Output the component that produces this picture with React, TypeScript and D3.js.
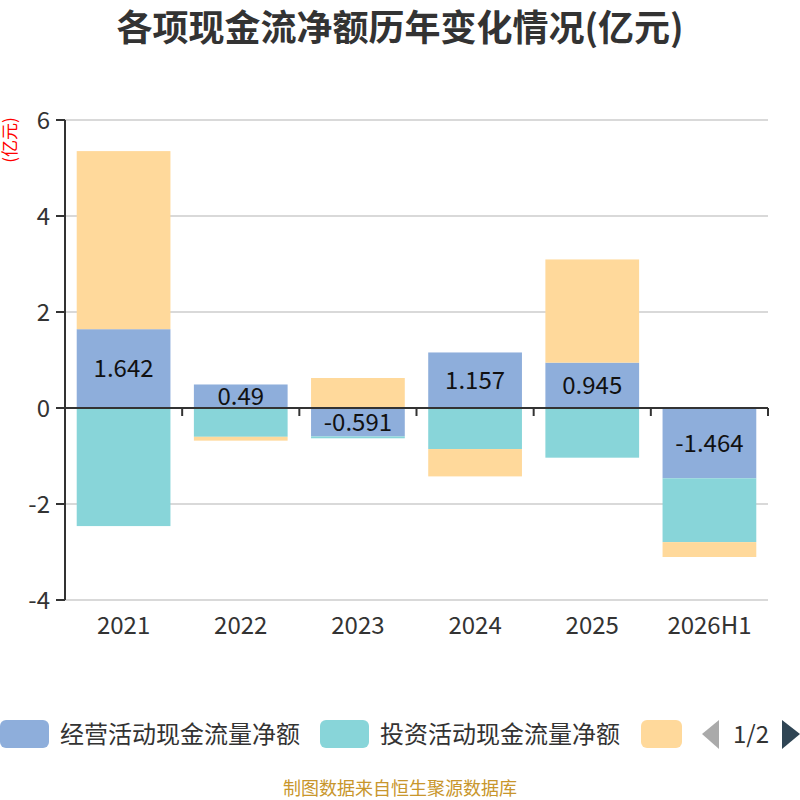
import * as d3 from "d3";
import { useEffect, useRef } from "react";

const categories = ["2021", "2022", "2023", "2024", "2025", "2026H1"];
const operating = [1.642, 0.49, -0.591, 1.157, 0.945, -1.464];
const investing = [-2.46, -0.6, -0.04, -0.855, -1.035, -1.33];
const financing = [3.71, -0.08, 0.625, -0.57, 2.15, -0.31];
const seriesNames = ["经营活动现金流量净额", "投资活动现金流量净额", "筹资活动现金流量净额"];
const colors = ["#8eaedb", "#88d5d9", "#ffd99b"];
const yTicks = [-4, -2, 0, 2, 4, 6];

const FONT = "'Noto Sans CJK SC', 'Noto Sans', sans-serif";

export default function App() {
	const svgRef = useRef<SVGSVGElement>(null);

	useEffect(() => {
		if (!svgRef.current) return;
		const svg = d3.select(svgRef.current);
		svg.selectAll("*").remove();

		const margin = { top: 120, right: 32, bottom: 200, left: 65 };
		const width = 800;
		const height = 800;

		const x = d3
			.scaleBand()
			.domain(categories)
			.range([margin.left, width - margin.right])
			.paddingInner(0.2)
			.paddingOuter(0.1);
		const band = d3
			.scaleBand()
			.domain(categories)
			.range([margin.left, width - margin.right]);
		const y = d3.scaleLinear().domain([-4, 6]).range([height - margin.bottom, margin.top]);

		// title
		svg.append("text")
			.attr("x", 400)
			.attr("y", 41)
			.attr("text-anchor", "middle")
			.style("font-family", FONT)
			.style("font-size", "36px")
			.style("font-weight", "bold")
			.style("fill", "#333")
			.text("各项现金流净额历年变化情况(亿元)");

		// unit label
		svg.append("text")
			.attr("transform", `translate(16,140) rotate(-90)`)
			.attr("text-anchor", "middle")
			.style("font-family", FONT)
			.style("font-size", "17px")
			.style("fill", "#ff0000")
			.text("(亿元)");

		// grid
		svg.append("g")
			.selectAll("line")
			.data(yTicks)
			.enter()
			.append("line")
			.attr("x1", margin.left)
			.attr("x2", width - margin.right)
			.attr("y1", (d) => y(d))
			.attr("y2", (d) => y(d))
			.attr("stroke", "#ccc")
			.attr("stroke-width", 1.5);

		// stacked bars (separate positive / negative stacks)
		const all = [operating, investing, financing];
		const pos = categories.map(() => 0);
		const neg = categories.map(() => 0);
		all.forEach((vals, si) => {
			vals.forEach((v, i) => {
				const base = v >= 0 ? pos[i] : neg[i];
				const top = base + v;
				if (v >= 0) pos[i] = top;
				else neg[i] = top;
				svg.append("rect")
					.attr("x", x(categories[i]) ?? 0)
					.attr("width", x.bandwidth())
					.attr("y", y(Math.max(base, top)))
					.attr("height", Math.abs(y(base) - y(top)))
					.attr("fill", colors[si]);
				if (si === 0) {
					svg.append("text")
						.attr("x", (x(categories[i]) ?? 0) + x.bandwidth() / 2)
						.attr("y", (y(base) + y(top)) / 2)
						.attr("dy", "0.36em")
						.attr("text-anchor", "middle")
						.style("font-family", FONT)
						.style("font-size", "24px")
						.style("fill", "#111")
						.text(String(v));
				}
			});
		});

		// x axis at zero
		const xAxis = svg.append("g").attr("transform", `translate(0,${y(0)})`);
		xAxis.append("line")
			.attr("x1", margin.left)
			.attr("x2", width - margin.right)
			.attr("stroke", "#333")
			.attr("stroke-width", 2);
		const tickXs = d3.range(categories.length + 1).map(
			(i) => margin.left + i * band.step(),
		);
		xAxis.selectAll(".tk")
			.data(tickXs)
			.enter()
			.append("line")
			.attr("x1", (d) => d)
			.attr("x2", (d) => d)
			.attr("y1", 0)
			.attr("y2", 8)
			.attr("stroke", "#333")
			.attr("stroke-width", 2);

		svg.append("g")
			.selectAll("text")
			.data(categories)
			.enter()
			.append("text")
			.attr("x", (d) => (band(d) ?? 0) + band.bandwidth() / 2)
			.attr("y", 634)
			.attr("text-anchor", "middle")
			.style("font-family", FONT)
			.style("font-size", "24px")
			.style("fill", "#333")
			.text((d) => d);

		// y axis
		const yAxis = svg.append("g");
		yAxis.append("line")
			.attr("x1", margin.left)
			.attr("x2", margin.left)
			.attr("y1", y(6))
			.attr("y2", y(-4))
			.attr("stroke", "#333")
			.attr("stroke-width", 2);
		yAxis.selectAll(".tk")
			.data(yTicks)
			.enter()
			.append("line")
			.attr("x1", margin.left - 9)
			.attr("x2", margin.left)
			.attr("y1", (d) => y(d))
			.attr("y2", (d) => y(d))
			.attr("stroke", "#333")
			.attr("stroke-width", 2);
		yAxis.selectAll("text")
			.data(yTicks)
			.enter()
			.append("text")
			.attr("x", margin.left - 15)
			.attr("y", (d) => y(d))
			.attr("dy", "0.36em")
			.attr("text-anchor", "end")
			.style("font-family", FONT)
			.style("font-size", "24px")
			.style("fill", "#333")
			.text((d) => String(d));

		// legend (page 1 of 2)
		const legendY = 734;
		const items = [
			{ x: 0, w: 49, label: seriesNames[0] },
			{ x: 320, w: 49, label: seriesNames[1] },
			{ x: 641, w: 41, label: "" },
		];
		items.forEach((it, i) => {
			svg.append("rect")
				.attr("x", it.x)
				.attr("y", legendY - 14)
				.attr("width", it.w)
				.attr("height", 28)
				.attr("rx", 6)
				.attr("fill", colors[i]);
			if (it.label) {
				svg.append("text")
					.attr("x", it.x + 60)
					.attr("y", legendY)
					.attr("dy", "0.36em")
					.style("font-family", FONT)
					.style("font-size", "24px")
					.style("fill", "#333")
					.text(it.label);
			}
		});
		svg.append("path")
			.attr("d", `M719,${legendY - 14} L719,${legendY + 15} L702,${legendY} Z`)
			.attr("fill", "#aaa");
		svg.append("text")
			.attr("x", 751)
			.attr("y", legendY)
			.attr("dy", "0.36em")
			.attr("text-anchor", "middle")
			.style("font-family", FONT)
			.style("font-size", "24px")
			.style("fill", "#333")
			.text("1/2");
		svg.append("path")
			.attr("d", `M782,${legendY - 14} L782,${legendY + 15} L800,${legendY} Z`)
			.attr("fill", "#2f4554");

		// footer
		svg.append("text")
			.attr("x", 400)
			.attr("y", 795)
			.attr("text-anchor", "middle")
			.style("font-family", FONT)
			.style("font-size", "18px")
			.style("fill", "#c8962c")
			.text("制图数据来自恒生聚源数据库");
	}, []);

	return (
		<svg
			ref={svgRef}
			width={800}
			height={800}
			style={{ position: "absolute", left: 0, top: 0, background: "#fff" }}
		/>
	);
}
